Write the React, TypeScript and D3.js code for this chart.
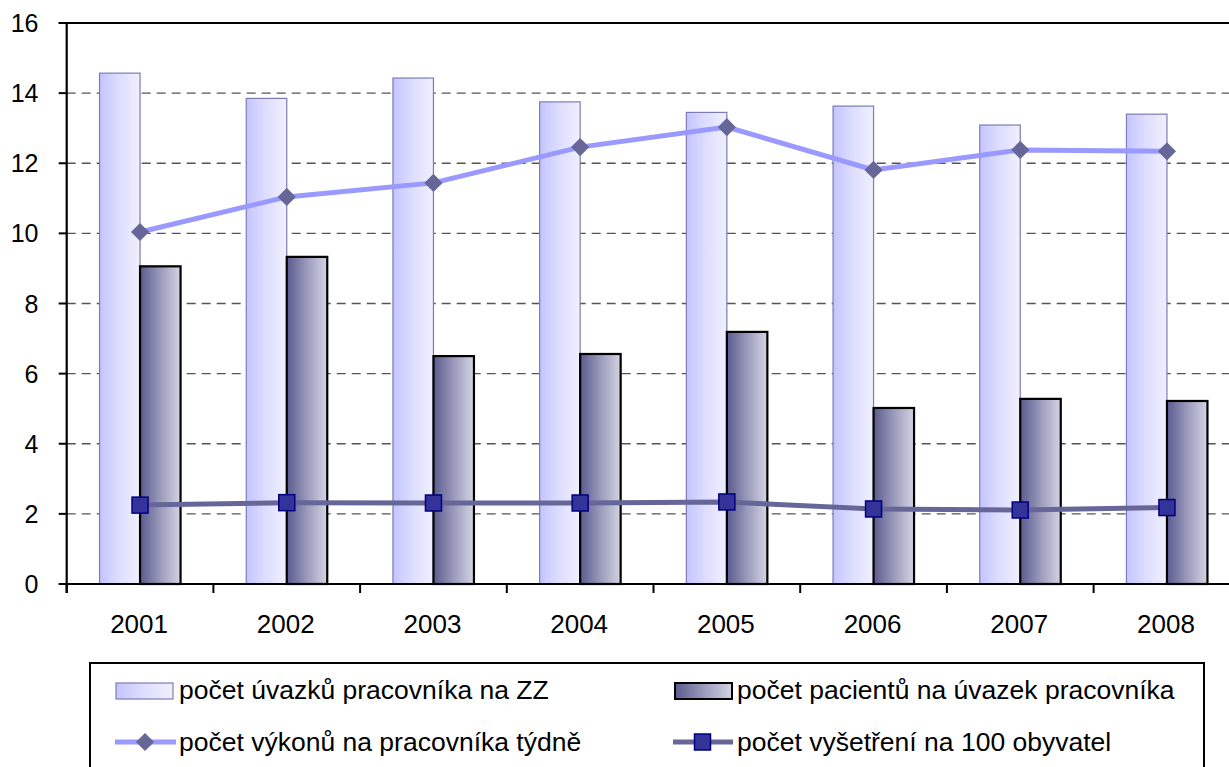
import { useEffect, useRef } from 'react';
import * as d3 from 'd3';

const years = ['2001', '2002', '2003', '2004', '2005', '2006', '2007', '2008'];
const uvazky = [14.57, 13.85, 14.43, 13.75, 13.45, 13.63, 13.09, 13.4];
const pacienti = [9.06, 9.33, 6.5, 6.56, 7.19, 5.02, 5.28, 5.22];
const vykony = [10.04, 11.04, 11.44, 12.46, 13.03, 11.81, 12.38, 12.34];
const vysetreni = [2.25, 2.32, 2.31, 2.31, 2.34, 2.14, 2.11, 2.18];
const yTicks = [0, 2, 4, 6, 8, 10, 12, 14, 16];

const W = 1229;
const H = 767;
const FONT = '"Liberation Sans", Arial, sans-serif';

export default function App() {
  const svgRef = useRef<SVGSVGElement>(null);

  useEffect(() => {
    if (!svgRef.current) return;
    const svg = d3.select(svgRef.current);
    svg.selectAll('*').remove();

    const left = 66.7;
    const step = 146.7;
    const x = d3.scaleBand<string>()
      .domain(years)
      .range([left, left + step * years.length])
      .padding(0);
    const y = d3.scaleLinear().domain([0, 16]).range([584, 23]);
    const barW = 40.5;
    const bw = x.bandwidth();
    const cx = (yr: string) => (x(yr) as number) + bw / 2;

    // gradients
    const defs = svg.append('defs');
    const g1 = defs.append('linearGradient').attr('id', 'lightGrad');
    g1.append('stop').attr('offset', '0%').attr('stop-color', '#c4c4ff');
    g1.append('stop').attr('offset', '45%').attr('stop-color', '#dcdcff');
    g1.append('stop').attr('offset', '100%').attr('stop-color', '#f0f0ff');
    const g2 = defs.append('linearGradient').attr('id', 'darkGrad');
    g2.append('stop').attr('offset', '0%').attr('stop-color', '#5a5a90');
    g2.append('stop').attr('offset', '50%').attr('stop-color', '#9a9abb');
    g2.append('stop').attr('offset', '100%').attr('stop-color', '#d4d4e4');

    // gridlines
    svg.append('g')
      .selectAll('line')
      .data(yTicks.filter(t => t > 0 && t < 16))
      .join('line')
      .attr('x1', left).attr('x2', W)
      .attr('y1', d => y(d)).attr('y2', d => y(d))
      .attr('stroke', '#555')
      .attr('stroke-width', 1.3)
      .attr('stroke-dasharray', '9,6');

    // light bars
    svg.append('g')
      .selectAll('rect')
      .data(years)
      .join('rect')
      .attr('x', d => cx(d) - barW)
      .attr('y', (d, i) => y(uvazky[i]))
      .attr('width', barW)
      .attr('height', (d, i) => y(0) - y(uvazky[i]))
      .attr('fill', 'url(#lightGrad)')
      .attr('stroke', '#7c7cb4')
      .attr('stroke-width', 1.2);

    // dark bars
    svg.append('g')
      .selectAll('rect')
      .data(years)
      .join('rect')
      .attr('x', d => cx(d))
      .attr('y', (d, i) => y(pacienti[i]))
      .attr('width', barW)
      .attr('height', (d, i) => y(0) - y(pacienti[i]))
      .attr('fill', 'url(#darkGrad)')
      .attr('stroke', '#000')
      .attr('stroke-width', 2.2);

    // lines
    const line = d3.line<number>()
      .x((d, i) => cx(years[i]))
      .y(d => y(d));

    svg.append('path')
      .attr('d', line(vykony))
      .attr('fill', 'none')
      .attr('stroke', '#9999ff')
      .attr('stroke-width', 5);
    svg.append('g')
      .selectAll('path')
      .data(vykony)
      .join('path')
      .attr('d', d3.symbol().type(d3.symbolDiamond2).size(210))
      .attr('transform', (d, i) => `translate(${cx(years[i])},${y(d)})`)
      .attr('fill', '#666699');

    svg.append('path')
      .attr('d', line(vysetreni))
      .attr('fill', 'none')
      .attr('stroke', '#666699')
      .attr('stroke-width', 5);
    svg.append('g')
      .selectAll('rect')
      .data(vysetreni)
      .join('rect')
      .attr('x', (d, i) => cx(years[i]) - 8)
      .attr('y', d => y(d) - 8)
      .attr('width', 16)
      .attr('height', 16)
      .attr('fill', '#333399')
      .attr('stroke', '#000080')
      .attr('stroke-width', 1.5);

    // axes
    svg.append('line')
      .attr('x1', left).attr('x2', left)
      .attr('y1', y(16)).attr('y2', y(0) + 9)
      .attr('stroke', '#000').attr('stroke-width', 2.2);
    svg.append('line')
      .attr('x1', left - 8).attr('x2', W)
      .attr('y1', y(0)).attr('y2', y(0))
      .attr('stroke', '#000').attr('stroke-width', 2.2);
    svg.append('line')
      .attr('x1', left - 8).attr('x2', W)
      .attr('y1', y(16)).attr('y2', y(16))
      .attr('stroke', '#000').attr('stroke-width', 2.2);

    const yAxis = svg.append('g');
    yAxis.selectAll('line')
      .data(yTicks)
      .join('line')
      .attr('x1', left - 8).attr('x2', left)
      .attr('y1', d => y(d)).attr('y2', d => y(d))
      .attr('stroke', '#000').attr('stroke-width', 2);
    yAxis.selectAll('text')
      .data(yTicks)
      .join('text')
      .attr('x', 38.5)
      .attr('y', d => y(d) + 9)
      .attr('text-anchor', 'end')
      .attr('font-family', FONT)
      .attr('font-size', 25)
      .text(d => d);

    svg.append('g')
      .selectAll('line')
      .data(years)
      .join('line')
      .attr('x1', d => x(d) as number).attr('x2', d => x(d) as number)
      .attr('y1', y(0)).attr('y2', y(0) + 9)
      .attr('stroke', '#000').attr('stroke-width', 2);
    svg.append('g')
      .selectAll('text')
      .data(years)
      .join('text')
      .attr('x', d => cx(d) - 1)
      .attr('y', 632.5)
      .attr('text-anchor', 'middle')
      .attr('font-family', FONT)
      .attr('font-size', 26)
      .text(d => d);

    // legend
    const lg = svg.append('g');
    lg.append('rect')
      .attr('x', 90).attr('y', 663)
      .attr('width', 1114).attr('height', 130)
      .attr('fill', '#fff')
      .attr('stroke', '#000').attr('stroke-width', 2);

    lg.append('rect')
      .attr('x', 116).attr('y', 683).attr('width', 57).attr('height', 16)
      .attr('fill', 'url(#lightGrad)').attr('stroke', '#7c7cb4').attr('stroke-width', 1.2);
    lg.append('rect')
      .attr('x', 675).attr('y', 683).attr('width', 57).attr('height', 16)
      .attr('fill', 'url(#darkGrad)').attr('stroke', '#000').attr('stroke-width', 2);

    lg.append('line')
      .attr('x1', 115).attr('x2', 176).attr('y1', 742).attr('y2', 742)
      .attr('stroke', '#9999ff').attr('stroke-width', 5);
    lg.append('path')
      .attr('d', d3.symbol().type(d3.symbolDiamond2).size(210))
      .attr('transform', 'translate(145,742)')
      .attr('fill', '#666699');
    lg.append('line')
      .attr('x1', 673).attr('x2', 733).attr('y1', 742).attr('y2', 742)
      .attr('stroke', '#666699').attr('stroke-width', 5);
    lg.append('rect')
      .attr('x', 694.5).attr('y', 734).attr('width', 16).attr('height', 16)
      .attr('fill', '#333399').attr('stroke', '#000080').attr('stroke-width', 1.5);

    const labels = [
      { x: 179, y: 699, t: 'počet úvazků pracovníka na ZZ' },
      { x: 737, y: 699, t: 'počet pacientů na úvazek pracovníka' },
      { x: 179, y: 751, t: 'počet výkonů na pracovníka týdně' },
      { x: 737, y: 751, t: 'počet vyšetření na 100 obyvatel' },
    ];
    lg.selectAll('text.lbl')
      .data(labels)
      .join('text')
      .attr('class', 'lbl')
      .attr('x', d => d.x)
      .attr('y', d => d.y)
      .attr('font-family', FONT)
      .attr('font-size', 26.5)
      .text(d => d.t);
  }, []);

  return (
    <svg
      ref={svgRef}
      width={W}
      height={H}
      style={{ position: 'absolute', left: 0, top: 0, background: '#fff', display: 'block' }}
    />
  );
}
